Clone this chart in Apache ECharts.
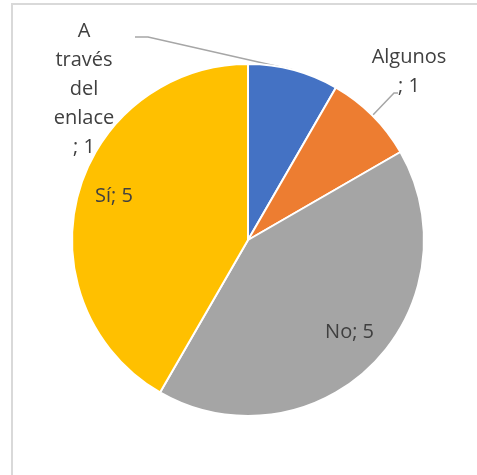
<!DOCTYPE html>
<html>
<head>
<meta charset="utf-8">
<script src="https://cdn.jsdelivr.net/npm/echarts@6/dist/echarts.min.js"></script>
<style>
  html, body { margin: 0; padding: 0; background: #ffffff; }
  #chart { width: 477px; height: 475px; }
</style>
</head>
<body>
<div id="chart"></div>
<script>
// Responses and their counts
const categories = ['A través del enlace', 'Algunos', 'No', 'Sí'];
const counts = [1, 1, 5, 5];
const sliceColors = ['#4472C4', '#ED7D31', '#A5A5A5', '#FFC000'];

// Pie geometry
const CX = 248, CY = 240, R = 176;
const total = counts.reduce((a, b) => a + b, 0);

// Mid-angle of slice i, clockwise from 12 o'clock (radians)
function midAngle(i) {
  let before = 0;
  for (let k = 0; k < i; k++) before += counts[k];
  return (before + counts[i] / 2) / total * 2 * Math.PI;
}
function polar(i, r) {
  const a = midAngle(i);
  return [CX + r * Math.sin(a), CY - r * Math.cos(a)];
}

// Which labels sit outside the pie with a leader line
const outsideLabel = [true, true, false, false];

// Label placement: outer labels sit in the free corners, inner ones near the rim
const labelPlacement = {
  0: { x: 84, y: 89, line: [[148, 37], [135, 37]] },
  1: { x: 409, y: 72, line: [[394, 93], [398, 93]] }
};

const chart = echarts.init(document.getElementById('chart'), null, { renderer: 'canvas' });

const pieData = categories.map((name, i) => ({
  name: name,
  value: counts[i],
  itemStyle: { color: sliceColors[i] },
  label: { position: outsideLabel[i] ? 'outside' : 'inside' },
  labelLine: { show: outsideLabel[i] }
}));

chart.setOption({
  animation: false,
  backgroundColor: '#ffffff',
  graphic: [{
    type: 'rect',
    shape: { x: 12, y: 4, width: 490, height: 490 },
    style: { fill: 'none', stroke: '#d9d9d9', lineWidth: 2 },
    silent: true,
    z: -1
  }],
  series: [{
    type: 'pie',
    center: [CX, CY],
    radius: [0, R],
    startAngle: 90,
    clockwise: true,
    avoidLabelOverlap: false,
    emphasis: { disabled: true },
    itemStyle: { borderColor: '#ffffff', borderWidth: 2 },
    label: {
      show: true,
      fontFamily: 'Open Sans',
      fontSize: 20,
      lineHeight: 29,
      color: '#404040',
      align: 'center',
      formatter: p => outsideLabel[p.dataIndex]
        ? p.name.split(' ').join('\n') + '\n; ' + p.value
        : p.name + '; ' + p.value
    },
    labelLine: {
      lineStyle: { color: '#a6a6a6', width: 1.5 }
    },
    labelLayout: function (params) {
      const i = params.dataIndex;
      if (outsideLabel[i]) {
        const pl = labelPlacement[i];
        return {
          x: pl.x, y: pl.y, align: 'center', verticalAlign: 'middle',
          labelLinePoints: [polar(i, R), pl.line[0], pl.line[1]]
        };
      }
      const p = polar(i, R * 0.8);
      return { x: p[0] + 2, y: p[1] - 7, align: 'center', verticalAlign: 'middle' };
    },
    data: pieData
  }]
});
</script>
</body>
</html>
